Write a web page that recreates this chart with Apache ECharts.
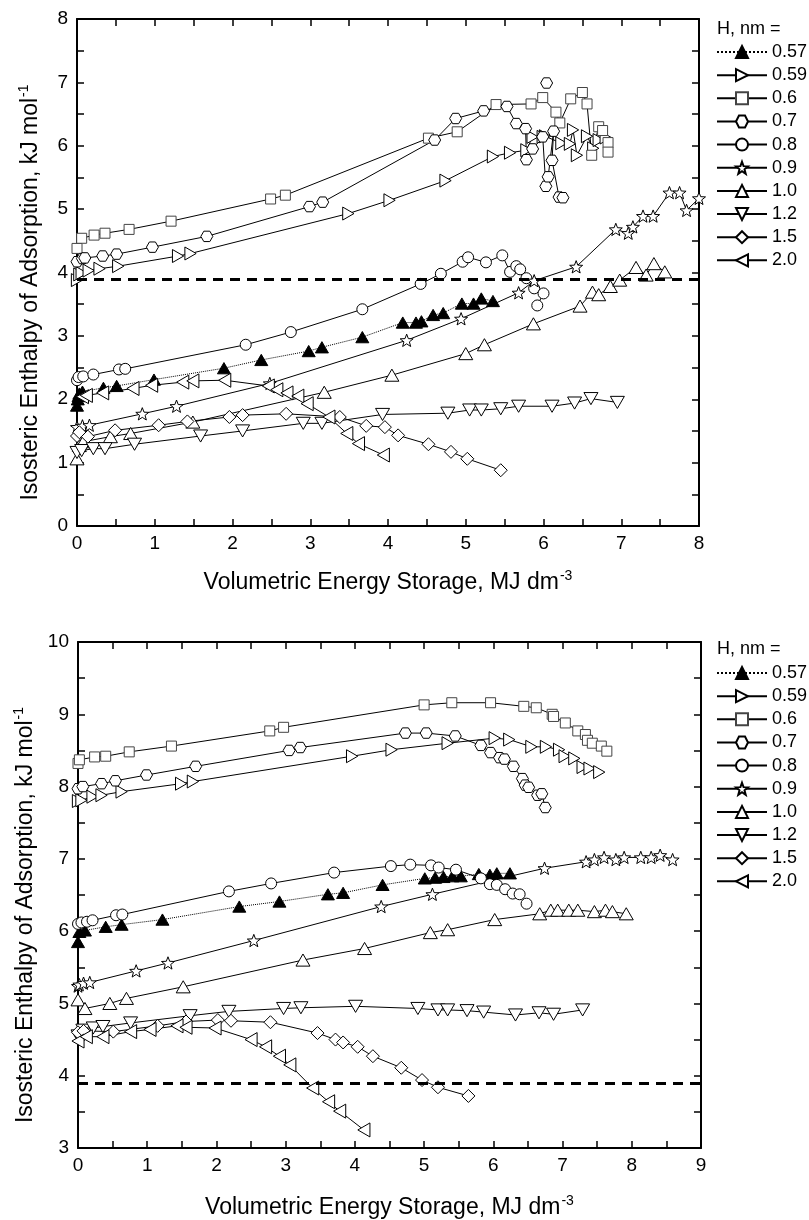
<!DOCTYPE html>
<html>
<head>
<meta charset="utf-8">
<script src="https://cdn.jsdelivr.net/npm/echarts@6.0.0/dist/echarts.min.js"></script>
<style>
html,body{margin:0;padding:0;background:#fff}
#main{width:809px;height:1220px}
</style>
</head>
<body>
<div id="main"></div>
<script>
// pore widths, legend order
var poreSizes = ['0.57', '0.59', '0.6', '0.7', '0.8', '0.9', '1.0', '1.2', '1.5', '2.0'];
var refLevel = 3.9; // dashed line, kJ/mol

// ---- top panel: x = MJ dm-3, y = kJ mol-1 ----
var top057 = [[0,1.90],[0.01,2.0],[0.02,2.05],[0.03,2.09],[0.07,2.12],[0.34,2.18],[0.51,2.21],[0.99,2.31],[1.89,2.49],[2.37,2.62],[2.98,2.76],[3.15,2.82],[3.67,2.98],[4.19,3.21],[4.36,3.21],[4.43,3.23],[4.58,3.33],[4.71,3.36],[4.95,3.51],[5.10,3.51],[5.20,3.59],[5.35,3.55]];
var top059 = [[0,3.88],[0.03,3.97],[0.06,3.99],[0.15,4.03],[0.29,4.06],[0.53,4.10],[1.30,4.26],[1.46,4.30],[3.49,4.93],[4.02,5.14],[4.74,5.45],[5.35,5.83],[5.57,5.89],[5.78,5.93],[5.86,6.14],[5.99,6.14],[6.02,6.15],[6.23,6.04],[6.34,6.03],[6.38,6.25],[6.43,5.85],[6.56,6.15],[6.64,5.96],[6.71,6.09],[6.80,6.13]];
var top06 = [[0,4.38],[0.06,4.54],[0.22,4.59],[0.36,4.62],[0.67,4.68],[1.21,4.81],[2.49,5.16],[2.68,5.22],[4.52,6.12],[4.89,6.22],[5.39,6.65],[5.84,6.66],[5.99,6.76],[6.16,6.53],[6.21,6.36],[6.35,6.74],[6.50,6.84],[6.56,6.66],[6.62,5.85],[6.71,6.30],[6.76,6.24],[6.83,6.05],[6.83,5.90]];
var top07 = [[0,4.17],[0.07,4.22],[0.10,4.23],[0.33,4.26],[0.51,4.29],[0.97,4.40],[1.67,4.57],[2.99,5.04],[3.16,5.11],[4.60,6.09],[4.87,6.43],[5.23,6.55],[5.53,6.62],[5.65,6.35],[5.77,6.27],[5.78,5.78],[5.86,5.95],[5.99,6.14],[6.03,5.36],[6.06,5.51],[6.13,6.23],[6.11,5.77],[6.20,5.19],[6.25,5.18],null,[6.04,6.99]];
var top08 = [[0,2.30],[0.02,2.35],[0.08,2.36],[0.21,2.39],[0.54,2.47],[0.62,2.48],[2.17,2.86],[2.75,3.06],[3.67,3.42],[4.42,3.82],[4.68,3.98],[4.96,4.17],[5.03,4.24],[5.26,4.16],[5.47,4.27],[5.57,4.01],[5.65,4.10],[5.70,4.05],[5.78,3.91],[5.88,3.75],[6.00,3.67],[5.92,3.48]];
var top09 = [[0,1.56],[0.07,1.58],[0.16,1.59],[0.84,1.77],[1.28,1.89],[2.48,2.25],[4.24,2.93],[4.94,3.27],[5.68,3.68],[5.88,3.87],[6.42,4.09],[6.93,4.68],[7.09,4.62],[7.15,4.72],[7.28,4.89],[7.41,4.89],[7.62,5.26],[7.75,5.26],[7.84,4.98],[8.0,5.17]];
var top10 = [[0,1.06],[0.03,1.27],[0.08,1.33],[0.43,1.41],[0.69,1.46],[1.49,1.64],[3.18,2.11],[4.05,2.38],[5.0,2.72],[5.24,2.86],[5.87,3.19],[6.47,3.47],[6.63,3.69],[6.71,3.65],[6.86,3.78],[6.98,3.88],[7.19,4.08],[7.32,3.96],[7.42,4.14],[7.56,4.01]];
var top12 = [[0,1.16],[0.06,1.19],[0.21,1.22],[0.36,1.22],[0.74,1.29],[1.59,1.42],[2.13,1.50],[2.91,1.62],[3.15,1.62],[3.93,1.76],[4.77,1.78],[5.05,1.83],[5.20,1.83],[5.45,1.85],[5.68,1.89],[6.11,1.89],[6.40,1.94],[6.61,2.01],[6.95,1.95]];
var top15 = [[0,1.42],[0.03,1.48],[0.14,1.41],[0.49,1.51],[1.05,1.59],[1.42,1.65],[1.96,1.72],[2.13,1.75],[2.69,1.77],[3.38,1.72],[3.72,1.58],[3.96,1.56],[4.13,1.43],[4.52,1.29],[4.81,1.17],[5.02,1.06],[5.45,0.88]];
var top20 = [[0.07,2.04],[0.12,2.06],[0.33,2.10],[0.72,2.17],[0.96,2.22],[1.36,2.27],[1.49,2.29],[1.90,2.30],[2.46,2.21],[2.57,2.15],[2.70,2.10],[2.84,2.05],[2.96,1.93],[3.24,1.72],[3.47,1.46],[3.62,1.30],[3.94,1.12]];

// ---- bottom panel ----
var bot057 = [[0,5.85],[0.02,5.99],[0.10,6.01],[0.40,6.06],[0.63,6.09],[1.22,6.16],[2.33,6.34],[2.91,6.41],[3.61,6.51],[3.83,6.53],[4.40,6.64],[5.01,6.73],[5.16,6.74],[5.28,6.75],[5.41,6.76],[5.53,6.76],[5.79,6.79],[5.95,6.78],[6.05,6.80],[6.24,6.80]];
var bot059 = [[0,7.80],[0.05,7.81],[0.21,7.86],[0.34,7.88],[0.63,7.93],[1.49,8.04],[1.66,8.07],[3.96,8.42],[4.53,8.51],[5.34,8.60],[6.02,8.67],[6.23,8.65],[6.55,8.55],[6.76,8.55],[6.95,8.51],[7.03,8.42],[7.17,8.39],[7.29,8.27],[7.39,8.25],[7.53,8.20]];
var bot06 = [[0,8.32],[0.02,8.37],[0.24,8.41],[0.40,8.42],[0.74,8.48],[1.35,8.56],[2.77,8.77],[2.97,8.82],[5.00,9.13],[5.40,9.16],[5.96,9.16],[6.44,9.11],[6.62,9.09],[6.85,9.00],[6.87,8.97],[7.04,8.88],[7.22,8.77],[7.33,8.72],[7.36,8.64],[7.43,8.60],[7.56,8.56],[7.64,8.49]];
var bot07 = [[0,7.97],[0.07,8.0],[0.34,8.04],[0.54,8.08],[0.99,8.16],[1.70,8.28],[3.05,8.50],[3.21,8.54],[4.73,8.74],[5.03,8.74],[5.45,8.70],[5.82,8.57],[5.96,8.47],[6.09,8.40],[6.16,8.38],[6.29,8.28],[6.42,8.11],[6.46,8.02],[6.51,7.99],[6.64,7.88],[6.70,7.90],[6.75,7.71]];
var bot08 = [[0,6.10],[0.05,6.12],[0.13,6.13],[0.21,6.15],[0.55,6.22],[0.64,6.23],[2.18,6.55],[2.79,6.66],[3.70,6.81],[4.52,6.90],[4.80,6.92],[5.10,6.91],[5.21,6.88],[5.46,6.85],[5.82,6.73],[5.95,6.65],[6.05,6.64],[6.17,6.58],[6.28,6.52],[6.38,6.51],[6.48,6.38]];
var bot09 = [[0,5.24],[0.02,5.26],[0.08,5.28],[0.17,5.29],[0.84,5.45],[1.30,5.56],[2.54,5.87],[4.38,6.34],[5.12,6.51],[6.74,6.87],[7.34,6.96],[7.46,6.99],[7.60,7.02],[7.77,6.99],[7.89,7.02],[8.13,7.02],[8.28,7.02],[8.41,7.05],[8.59,6.99]];
var bot10 = [[0,5.05],[0.10,4.93],[0.46,5.0],[0.70,5.07],[1.52,5.23],[3.25,5.60],[4.14,5.76],[5.09,5.98],[5.34,6.02],[6.02,6.16],[6.67,6.24],[6.83,6.29],[6.93,6.29],[7.09,6.29],[7.22,6.29],[7.46,6.27],[7.62,6.29],[7.72,6.27],[7.92,6.24]];
var bot12 = [[0,4.55],[0.07,4.63],[0.22,4.66],[0.36,4.68],[0.76,4.73],[1.62,4.83],[2.18,4.89],[2.97,4.93],[3.22,4.94],[4.01,4.96],[4.91,4.93],[5.20,4.91],[5.34,4.91],[5.62,4.90],[5.86,4.88],[6.32,4.84],[6.66,4.87],[6.87,4.85],[7.29,4.91]];
var bot15 = [[0,4.60],[0.08,4.62],[0.51,4.61],[1.15,4.69],[1.56,4.75],[2.02,4.77],[2.21,4.76],[2.78,4.74],[3.46,4.59],[3.72,4.50],[3.83,4.46],[4.04,4.40],[4.26,4.27],[4.67,4.11],[4.97,3.94],[5.20,3.84],[5.64,3.72]];
var bot20 = [[0,4.48],[0.12,4.54],[0.36,4.54],[0.76,4.61],[1.04,4.64],[1.43,4.69],[1.56,4.67],[1.98,4.66],[2.50,4.50],[2.71,4.40],[2.91,4.27],[3.06,4.15],[3.39,3.83],[3.62,3.64],[3.78,3.51],[4.13,3.25]];

var topSets = [top057, top059, top06, top07, top08, top09, top10, top12, top15, top20];
var botSets = [bot057, bot059, bot06, bot07, bot08, bot09, bot10, bot12, bot15, bot20];

var FONT = '"Liberation Sans", Arial, sans-serif';

// marker shapes, same order as poreSizes
var shapes = [
	{symbol: 'path://M5,0L10,8.66L0,8.66Z', size: 13},                 // filled up triangle
	{symbol: 'path://M0,0L8.66,5L0,10Z', size: 13},                    // right triangle
	{symbol: 'rect', size: 10},
	{symbol: 'path://M0,4.33L2.5,0L7.5,0L10,4.33L7.5,8.66L2.5,8.66Z', size: 12}, // hexagon
	{symbol: 'circle', size: 11},
	{symbol: 'path://M10,0L12.47,6.6L19.51,6.91L13.99,11.3L15.88,18.09L10,14.2L4.12,18.09L6.01,11.3L0.49,6.91L7.53,6.6Z', size: 13}, // star
	{symbol: 'path://M5,0L10,8.66L0,8.66Z', size: 14},                 // up triangle
	{symbol: 'path://M0,0L10,0L5,8.66Z', size: 14},                    // down triangle
	{symbol: 'diamond', size: 13},
	{symbol: 'path://M8.66,0L0,5L8.66,10Z', size: 14}                  // left triangle
];

function buildSeries(sets, axisIdx) {
	var list = [];
	for (var i = 0; i < sets.length; i++) {
		var filled = (i === 0);
		var s = {
			name: poreSizes[i],
			type: 'line',
			xAxisIndex: axisIdx,
			yAxisIndex: axisIdx,
			data: sets[i],
			symbol: shapes[i].symbol,
			symbolSize: shapes[i].size,
			symbolKeepAspect: true,
			showAllSymbol: true,
			connectNulls: false,
			animation: false,
			lineStyle: {color: '#000', width: 1, type: filled ? 'dotted' : 'solid'},
			itemStyle: {color: filled ? '#000' : '#fff', borderColor: i === 2 ? '#444' : '#000', borderWidth: 1},
			emphasis: {disabled: true},
			z: 3
		};
		if (i === 0) {
			s.markLine = {
				silent: true,
				symbol: 'none',
				label: {show: false},
				lineStyle: {color: '#000', width: 3, type: [10, 7]},
				data: [{yAxis: refLevel}]
			};
		}
		list.push(s);
	}
	return list;
}

function axisPair(gridIdx, min, max, name, isY, gap) {
	var tickCommon = {show: true, inside: true, length: 7, lineStyle: {color: '#000', width: 1.5}};
	var minorCommon = {show: true, splitNumber: 2, length: 7, lineStyle: {color: '#000', width: 1.5}};
	var main = {
		type: 'value', gridIndex: gridIdx, min: min, max: max, interval: 1,
		position: isY ? 'left' : 'bottom',
		axisLine: {show: true, onZero: false, lineStyle: {color: '#000', width: 2}},
		axisTick: tickCommon,
		minorTick: minorCommon,
		splitLine: {show: false},
		axisLabel: {color: '#000', fontSize: 19, fontFamily: FONT, margin: isY ? 9 : 8},
		name: name,
		nameLocation: 'middle',
		nameGap: gap,
		nameTextStyle: {
			color: '#000', fontSize: 23, fontFamily: FONT,
			// y title sits lower than the plot centre in the original
			padding: isY ? [0, 40, 0, 0] : 0,
			rich: {sup: {fontSize: 14, fontFamily: FONT, color: '#000', padding: [0, 0, 13, 1]}}
		}
	};
	var mirror = {
		type: 'value', gridIndex: gridIdx, min: min, max: max, interval: 1,
		position: isY ? 'right' : 'top',
		axisLine: {show: true, onZero: false, lineStyle: {color: '#000', width: 2}},
		axisTick: tickCommon,
		minorTick: minorCommon,
		splitLine: {show: false},
		axisLabel: {show: false}
	};
	return [main, mirror];
}

var xName = 'Volumetric Energy Storage, MJ dm{sup|-3}';
var yName = 'Isosteric Enthalpy of Adsorption, kJ mol{sup|-1}';

var topX = axisPair(0, 0, 8, xName, false, 43);
var botX = axisPair(1, 0, 9, xName, false, 46);
var topY = axisPair(0, 0, 8, yName, true, 33);
var botY = axisPair(1, 3, 10, yName, true, 33);

function legendAt(topPx) {
	return {
		data: poreSizes,
		orient: 'vertical',
		left: 716,
		top: topPx,
		itemWidth: 50,
		itemHeight: 15,
		itemGap: 3.15,
		padding: 0,
		selectedMode: false,
		textStyle: {color: '#000', fontSize: 18, fontFamily: FONT, lineHeight: 20}
	};
}

var chart = echarts.init(document.getElementById('main'), null, {renderer: 'canvas'});
var option = {
	backgroundColor: '#fff',
	animation: false,
	grid: [
		{left: 77, top: 19, width: 622, height: 507},
		{left: 78, top: 642, width: 623, height: 506}
	],
	// order: 0 top main, 1 bottom main, 2 top mirror, 3 bottom mirror
	xAxis: [topX[0], botX[0], topX[1], botX[1]],
	yAxis: [topY[0], botY[0], topY[1], botY[1]],
	legend: [legendAt(42), legendAt(663)],
	graphic: [
		{type: 'text', left: 717, top: 20, style: {text: 'H, nm =', fill: '#000', font: '18px ' + FONT}},
		{type: 'text', left: 717, top: 640, style: {text: 'H, nm =', fill: '#000', font: '18px ' + FONT}}
	],
	series: buildSeries(topSets, 0).concat(buildSeries(botSets, 1))
};
chart.setOption(option);
</script>
</body>
</html>
